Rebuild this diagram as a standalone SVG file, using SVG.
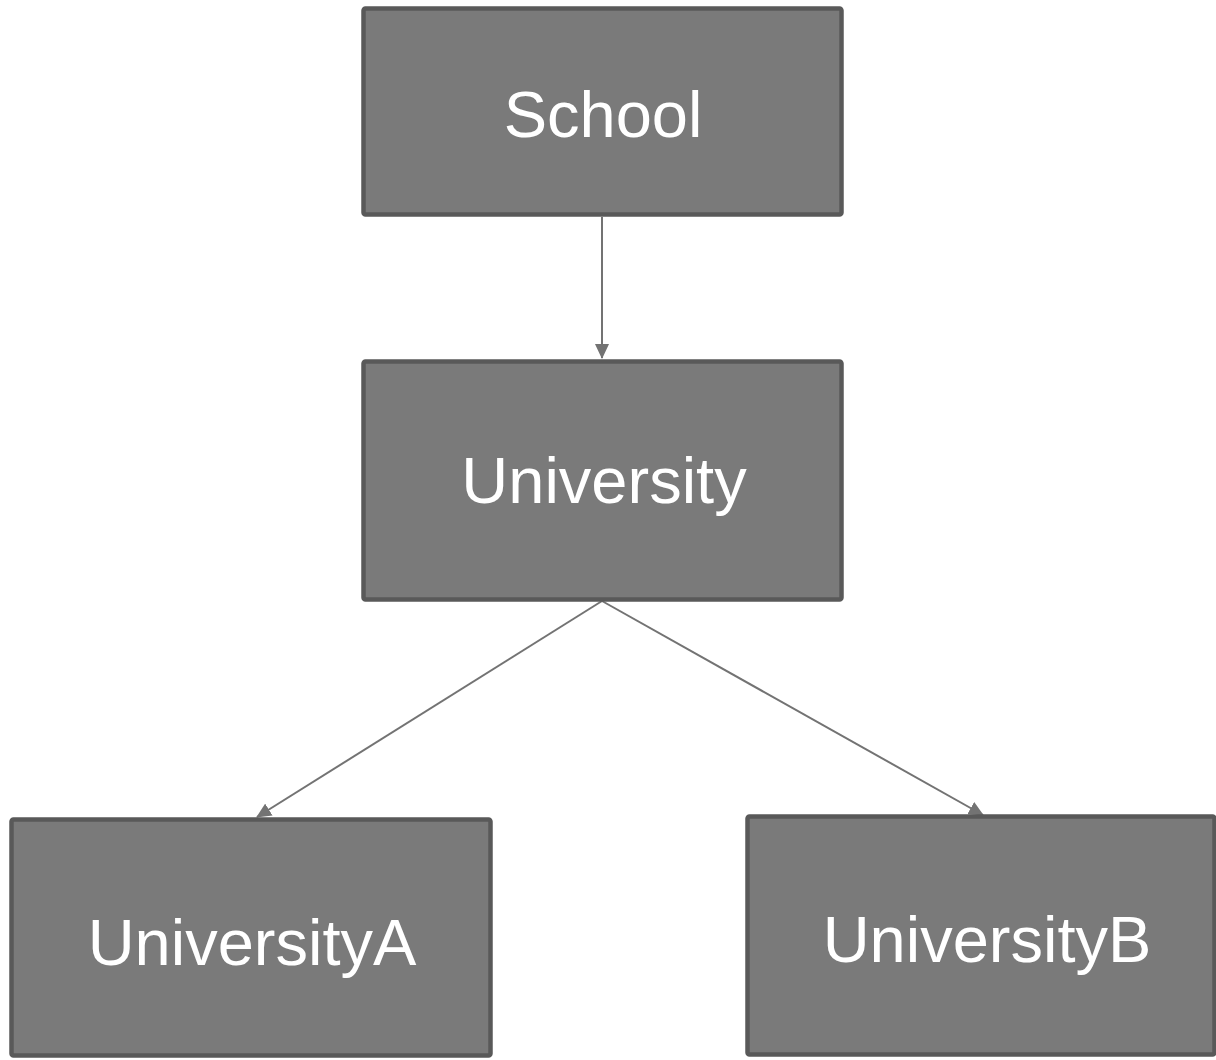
<svg xmlns="http://www.w3.org/2000/svg" width="1216" height="1060" viewBox="0 0 1216 1060">
<style>
.box{fill:#7a7a7a;stroke:#595959;stroke-width:4.5}
.lbl{fill:#ffffff;font-family:"Liberation Sans",Arial,sans-serif;font-size:65px;text-anchor:middle}
.edge{stroke:#737373;stroke-width:2;fill:none}
</style>
<defs>
<marker id="arr" viewBox="0 0 15 14" refX="14" refY="7" markerWidth="15" markerHeight="14" markerUnits="userSpaceOnUse" orient="auto">
<path d="M0,0 L15,7 L0,14 Z" fill="#737373"/>
</marker>
</defs>
<g id="connectors">
<line class="edge" x1="602" y1="217" x2="602" y2="358" marker-end="url(#arr)"/>
<line class="edge" x1="602" y1="601" x2="257" y2="817" marker-end="url(#arr)"/>
<line class="edge" x1="602" y1="601" x2="983" y2="815" marker-end="url(#arr)"/>
</g>
<g id="school">
<rect class="box" x="363.5" y="8.5" width="478" height="206" rx="2"/>
<text class="lbl" x="603" y="137">School</text>
</g>
<g id="university">
<rect class="box" x="363.5" y="361.5" width="478" height="238" rx="2"/>
<text class="lbl" x="604" y="503">University</text>
</g>
<g id="universityA">
<rect class="box" x="11.5" y="819.5" width="479" height="236" rx="2"/>
<text class="lbl" x="252" y="965">UniversityA</text>
</g>
<g id="universityB">
<rect class="box" x="747.5" y="816.5" width="467" height="238" rx="2"/>
<text class="lbl" x="987" y="962">UniversityB</text>
</g>
</svg>
